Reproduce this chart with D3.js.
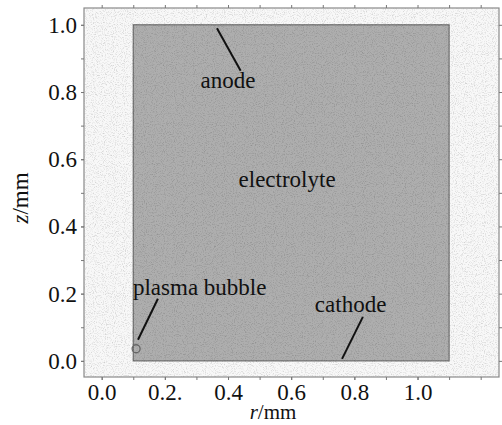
<!DOCTYPE html>
<html>
<head>
<meta charset="utf-8">
<script src="https://cdn.jsdelivr.net/npm/d3@7"></script>
<style>
  body { margin: 0; background: #fff; }
  svg { display: block; }
  text { font-family: "Liberation Serif", "Times New Roman", serif; fill: #111; }
</style>
</head>
<body>
<div id="chart"></div>
<script>
// geometry of the model (mm)
var electrolyteR = [0.1, 1.1];
var electrolyteZ = [0.0, 1.0];

// ticks
var rMajor = [0, 0.2, 0.4, 0.6, 0.8, 1.0];
var rLabels = ["0.0", "0.2.", "0.4", "0.6", "0.8", "1.0"];
var rMinor = [0, 0.1, 0.2, 0.3, 0.4, 0.5, 0.6, 0.7, 0.8, 0.9, 1.0, 1.1, 1.2];
var zMajor = [0, 0.2, 0.4, 0.6, 0.8, 1.0];
var zLabels = ["0.0", "0.2", "0.4", "0.6", "0.8", "1.0"];
var zMinor = [0, 0.1, 0.2, 0.3, 0.4, 0.5, 0.6, 0.7, 0.8, 0.9, 1.0];

// annotations: text anchor and leader line ends (r, z)
var annoText = ["anode", "electrolyte", "plasma bubble", "cathode"];
var annoR = [0.40, 0.587, 0.099, 0.675];
var annoZ = [0.8125, 0.518, 0.196, 0.146];
var leaderR1 = [0.365, null, 0.178, 0.827];
var leaderZ1 = [0.99, null, 0.185, 0.131];
var leaderR2 = [0.44, null, 0.115, 0.761];
var leaderZ2 = [0.863, null, 0.063, 0.006];
var bubbleR = 0.109, bubbleZ = 0.036;

var width = 502, height = 425;
var svg = d3.select('#chart').append('svg')
    .attr('width', width).attr('height', height);

var x = d3.scaleLinear().domain([-0.056, 1.258]).range([84, 499]);
var y = d3.scaleLinear().domain([-0.048, 1.05]).range([377, 8]);

var px0 = x.range()[0], px1 = x.range()[1], py0 = y.range()[1], py1 = y.range()[0];

// grainy scan look, limited to the plot frame
var defs = svg.append('defs');
var f = defs.append('filter').attr('id', 'grain')
  .attr('filterUnits', 'userSpaceOnUse')
  .attr('x', px0).attr('y', py0).attr('width', px1 - px0).attr('height', py1 - py0);
f.append('feTurbulence').attr('type', 'fractalNoise').attr('baseFrequency', 0.9)
  .attr('numOctaves', 2).attr('seed', 5).attr('result', 'n');
f.append('feColorMatrix').attr('in', 'n').attr('type', 'matrix')
  .attr('values', '0 0 0 0 0  0 0 0 0 0  0 0 0 0 0  2.2 0 0 0 -1.05');

// plot frame background
svg.append('rect')
   .attr('x', px0).attr('y', py0)
   .attr('width', px1 - px0).attr('height', py1 - py0)
   .attr('fill', '#f8f8f8');

// electrolyte region
svg.append('rect')
   .attr('x', x(electrolyteR[0])).attr('y', y(electrolyteZ[1]))
   .attr('width', x(electrolyteR[1]) - x(electrolyteR[0]))
   .attr('height', y(electrolyteZ[0]) - y(electrolyteZ[1]))
   .attr('fill', '#aeaeae')
   .attr('stroke', '#6e6e6e')
   .attr('stroke-width', 1.2);

// speckle over plot area
svg.append('rect')
   .attr('x', px0).attr('y', py0)
   .attr('width', px1 - px0).attr('height', py1 - py0)
   .attr('fill', '#000')
   .attr('opacity', 0.18)
   .attr('filter', 'url(#grain)');

// frame
svg.append('rect')
   .attr('x', px0).attr('y', py0)
   .attr('width', px1 - px0).attr('height', py1 - py0)
   .attr('fill', 'none')
   .attr('stroke', '#8a8a8a')
   .attr('stroke-width', 1.2);

function styleAxis(g) {
  g.select('.domain').remove();
  g.selectAll('.tick line').attr('stroke', '#777').attr('stroke-width', 1);
  g.selectAll('.tick text').attr('font-size', 23).attr('fill', '#111')
   .style('font-family', '"Liberation Serif", serif');
}

// minor ticks on all four sides
svg.append('g').attr('transform', 'translate(0,' + py1 + ')')
   .call(d3.axisBottom(x).tickValues(rMinor).tickSize(3).tickFormat('')).call(styleAxis);
svg.append('g').attr('transform', 'translate(0,' + py0 + ')')
   .call(d3.axisTop(x).tickValues(rMinor).tickSize(3).tickFormat('')).call(styleAxis);
svg.append('g').attr('transform', 'translate(' + px0 + ',0)')
   .call(d3.axisLeft(y).tickValues(zMinor).tickSize(3).tickFormat('')).call(styleAxis);
svg.append('g').attr('transform', 'translate(' + px1 + ',0)')
   .call(d3.axisRight(y).tickValues(zMinor).tickSize(3).tickFormat('')).call(styleAxis);

// labelled ticks
svg.append('g').attr('transform', 'translate(0,' + py1 + ')')
   .call(d3.axisBottom(x).tickValues(rMajor).tickSize(3).tickPadding(4)
         .tickFormat(function (d, i) { return rLabels[i]; }))
   .call(styleAxis);
svg.append('g').attr('transform', 'translate(' + px0 + ',0)')
   .call(d3.axisLeft(y).tickValues(zMajor).tickSize(3).tickPadding(4)
         .tickFormat(function (d, i) { return zLabels[i]; }))
   .call(styleAxis);

// axis titles
var rt = svg.append('text').attr('x', 273).attr('y', 419)
   .attr('text-anchor', 'middle').attr('font-size', 21);
rt.append('tspan').attr('font-style', 'italic').text('r');
rt.append('tspan').text('/mm');

var zt = svg.append('text')
   .attr('transform', 'translate(28,198) rotate(-90)')
   .attr('text-anchor', 'middle').attr('font-size', 23);
zt.append('tspan').attr('font-style', 'italic').text('z');
zt.append('tspan').text('/mm');

// leader lines
var idx = d3.range(annoText.length).filter(function (i) { return leaderR1[i] !== null; });
svg.selectAll('line.leader').data(idx).enter().append('line')
   .attr('class', 'leader')
   .attr('x1', function (i) { return x(leaderR1[i]); })
   .attr('y1', function (i) { return y(leaderZ1[i]); })
   .attr('x2', function (i) { return x(leaderR2[i]); })
   .attr('y2', function (i) { return y(leaderZ2[i]); })
   .attr('stroke', '#111')
   .attr('stroke-width', 2);

// plasma bubble
svg.append('circle')
   .attr('cx', x(bubbleR)).attr('cy', y(bubbleZ)).attr('r', 4)
   .attr('fill', 'none').attr('stroke', '#666').attr('stroke-width', 1.3);

// annotation text
svg.selectAll('text.anno').data(annoText).enter().append('text')
   .attr('class', 'anno')
   .attr('x', function (d, i) { return x(annoR[i]); })
   .attr('y', function (d, i) { return y(annoZ[i]); })
   .attr('text-anchor', function (d, i) { return (i === 0 || i === 1) ? 'middle' : 'start'; })
   .attr('font-size', 23)
   .text(function (d) { return d; });
</script>
</body>
</html>
